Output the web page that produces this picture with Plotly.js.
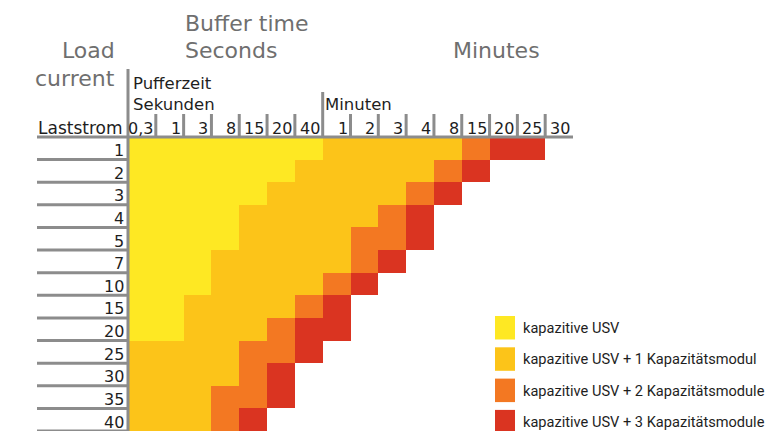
<!DOCTYPE html>
<html>
<head>
<meta charset="utf-8">
<script src="https://cdn.plot.ly/plotly-3.0.1.min.js"></script>
<style>html,body{margin:0;padding:0;background:#fff;}#chart{width:779px;height:431px;}</style>
</head>
<body>
<div id="chart"></div>
<script>
// ---- data ----
const loadCurrents = [1, 2, 3, 4, 5, 7, 10, 15, 20, 25, 30, 35, 40];
const timeLabels = ['0,3', '1', '3', '8', '15', '20', '40', '1', '2', '3', '4', '8', '15', '20', '25', '30'];
const timeKeys = ['0.3s', '1s', '3s', '8s', '15s', '20s', '40s', '1m', '2m', '3m', '4m', '8m', '15m', '20m', '25m', '30m'];
// maximum buffer time reached for each load current, per configuration
const maxUSV    = ['40s', '20s', '15s', '8s', '8s', '3s', '3s', '1s', '1s', null, null, null, null];
const maxPlus1  = ['8m', '4m', '3m', '2m', '1m', '1m', '40s', '20s', '15s', '8s', '8s', '3s', '3s'];
const maxPlus2  = ['15m', '8m', '4m', '3m', '3m', '2m', '1m', '40s', '20s', '20s', '15s', '15s', '8s'];
const maxPlus3  = ['25m', '15m', '8m', '4m', '4m', '3m', '2m', '1m', '1m', '40s', '20s', '20s', '15s'];
const levelNames = ['kapazitive USV', 'kapazitive USV + 1 Kapazitätsmodul',
                    'kapazitive USV + 2 Kapazitätsmodule', 'kapazitive USV + 3 Kapazitätsmodule'];
const levelColors = ['#FEE823', '#FCC419', '#F37822', '#DA3421'];

// ---- build grid ----
const levels = [maxUSV, maxPlus1, maxPlus2, maxPlus3];
const z = loadCurrents.map((lc, i) => timeKeys.map((tk, j) => {
  for (let k = 0; k < levels.length; k++) {
    const m = levels[k][i];
    if (m !== null && timeKeys.indexOf(m) >= j) return k;
  }
  return null;
}));
const xIdx = timeKeys.map((_, j) => j);
const yIdx = loadCurrents.map((_, i) => i);

const W = 779, H = 431, ML = 128, MT = 137, MR = 206, MB = 0;
const PW = W - ML - MR, PH = H - MT - MB;
const px2x = px => (px - ML) / PW;
const py2y = py => (H - MB - py) / PH;

const grey = '#8c8c8c', dark = '#1e1e1e', titleGrey = '#6f6f6f';
const FONT = 'DejaVu Sans, Verdana, sans-serif';
const NARROW = 'Roboto, Arial, sans-serif';

const trace = {
  type: 'heatmap', x: xIdx, y: yIdx, z: z,
  zmin: 0, zmax: 3, showscale: false, hoverinfo: 'skip',
  colorscale: [[0, levelColors[0]], [1/3, levelColors[1]], [2/3, levelColors[2]], [1, levelColors[3]]],
  xgap: 0, ygap: 0
};

const shapes = [];
const annotations = [];
// main vertical axis line
shapes.push({type: 'line', xref: 'paper', yref: 'paper', x0: 0, x1: 0, y0: py2y(69), y1: -0.05,
  line: {color: grey, width: 3}});
// top horizontal line
shapes.push({type: 'line', xref: 'paper', yref: 'paper', x0: px2x(37), x1: 1, y0: 1, y1: 1,
  line: {color: grey, width: 3}});
// column separators
for (let j = 0; j < timeKeys.length - 1; j++) {
  const long = timeKeys[j].endsWith('s') && timeKeys[j + 1].endsWith('m');
  shapes.push({type: 'line', xref: 'x', yref: 'paper', x0: j + 0.5, x1: j + 0.5,
    y0: 1, y1: py2y(long ? 92 : 114), line: {color: grey, width: 3}});
}
// row separators
loadCurrents.forEach((lc, i) => {
  shapes.push({type: 'line', xref: 'paper', yref: 'y', x0: px2x(37), x1: 0, y0: i + 0.5, y1: i + 0.5,
    line: {color: grey, width: 3}});
  annotations.push({text: String(lc), xref: 'paper', yref: 'y', x: px2x(126), y: i + 0.5,
    xanchor: 'right', yanchor: 'middle', yshift: 9, showarrow: false,
    font: {family: FONT, size: 16, color: dark}});
});
// column labels
timeLabels.forEach((t, j) => {
  annotations.push({text: t, xref: 'x', yref: 'paper', x: j + 0.5, y: py2y(128),
    xanchor: 'right', yanchor: 'middle', xshift: -1, showarrow: false,
    font: {family: FONT, size: 16, color: dark}});
});
function txt(text, px, py, size, color, anchor, family) {
  annotations.push({text: text, xref: 'paper', yref: 'paper', x: px2x(px), y: py2y(py),
    xanchor: anchor, yanchor: 'middle', showarrow: false,
    font: {family: family || FONT, size: size, color: color}});
}
txt('Laststrom', 125, 128, 17, dark, 'right');
txt('Pufferzeit', 131, 83.5, 16.5, dark, 'left');
txt('Sekunden', 131, 104.5, 16.5, dark, 'left');
txt('Minuten', 323, 104.5, 16.5, dark, 'left');
txt('Buffer time', 183, 23.5, 22, titleGrey, 'left');
txt('Seconds', 183, 50.5, 22, titleGrey, 'left');
txt('Load', 117, 50.5, 22, titleGrey, 'right');
txt('current', 117, 78.5, 22, titleGrey, 'right');
txt('Minutes', 451, 50.5, 22, titleGrey, 'left');
// legend
levelNames.forEach((name, k) => {
  const top = 316 + k * 31.3;
  shapes.push({type: 'rect', xref: 'paper', yref: 'paper', x0: px2x(495), x1: px2x(515),
    y0: py2y(top), y1: py2y(top + 23.5), fillcolor: levelColors[k], line: {width: 0}});
  txt(name, 521, top + 12, 14.6, dark, 'left', NARROW);
});

const layout = {
  width: W, height: H,
  margin: {l: ML, r: MR, t: MT, b: MB, pad: 0},
  paper_bgcolor: '#ffffff', plot_bgcolor: '#ffffff',
  xaxis: {range: [-0.5, timeKeys.length - 0.5], visible: false, fixedrange: true},
  yaxis: {range: [loadCurrents.length - 0.5, -0.5], visible: false, fixedrange: true},
  shapes: shapes, annotations: annotations, showlegend: false
};
Plotly.newPlot('chart', [trace], layout, {staticPlot: true, displayModeBar: false});
</script>
</body>
</html>
